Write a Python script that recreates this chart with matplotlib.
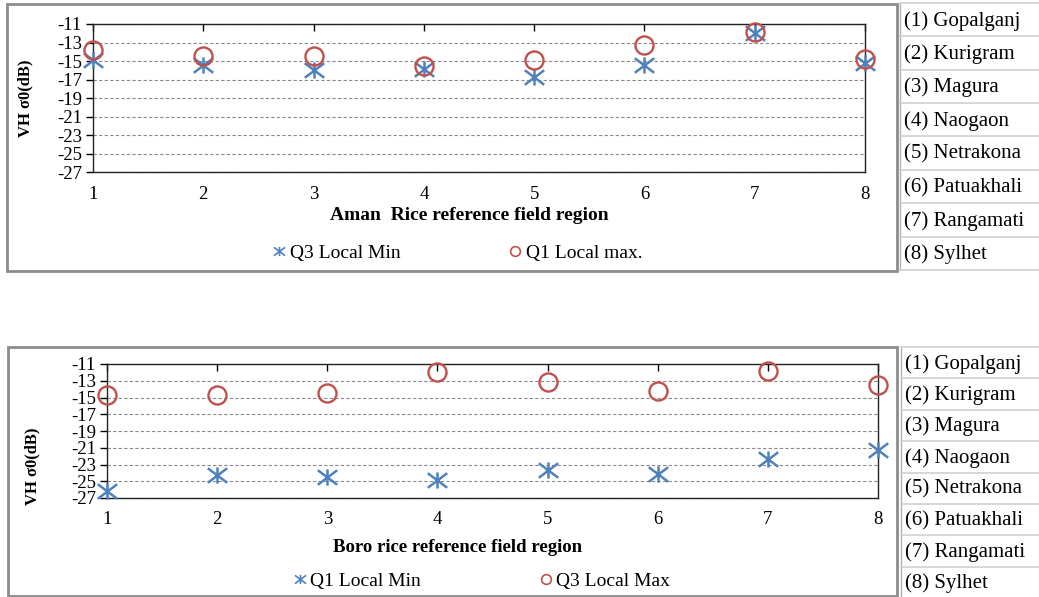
import matplotlib
matplotlib.use("Agg")
import matplotlib.pyplot as plt
from matplotlib.path import Path
from matplotlib.lines import Line2D
from matplotlib.patches import Rectangle

# ---------------- data ----------------
regions = [1, 2, 3, 4, 5, 6, 7, 8]
region_names = ["(1) Gopalganj", "(2) Kurigram", "(3) Magura", "(4) Naogaon",
                "(5) Netrakona", "(6) Patuakhali", "(7) Rangamati", "(8) Sylhet"]
aman_q3_min = [-14.9, -15.4, -16.0, -15.9, -16.7, -15.4, -12.0, -15.2]
aman_q1_max = [-13.8, -14.5, -14.5, -15.5, -14.9, -13.3, -11.9, -14.8]
boro_q1_min = [-26.2, -24.2, -24.5, -24.8, -23.7, -24.1, -22.4, -21.3]
boro_q3_max = [-14.7, -14.7, -14.5, -11.9, -13.1, -14.2, -11.8, -13.5]
y_ticks = [-27, -25, -23, -21, -19, -17, -15, -13, -11]

# ---------------- style ----------------
W, H = 1039, 597
SERIF = ["Liberation Serif", "DejaVu Serif"]
plt.rcParams["font.family"] = SERIF
plt.rcParams["axes.unicode_minus"] = False
BLUE = "#4F81BD"
RED = "#C0504D"
BOX = "#8c8c8c"

star = Path([(0, -1), (0, 1), (-1.2, -0.9), (1.2, 0.9), (-1.2, 0.9), (1.2, -0.9)],
            [Path.MOVETO, Path.LINETO, Path.MOVETO, Path.LINETO, Path.MOVETO, Path.LINETO])

fig = plt.figure(figsize=(W / 100, H / 100), dpi=100)
fig.patch.set_facecolor("white")


def fx(x):
    return x / W


def fy(y):
    return 1 - y / H


def make_axes(l, t, r, b):
    return fig.add_axes([fx(l), fy(b), (r - l) / W, (b - t) / H])


def style_axes(ax, xpad, ypad):
    ax.set_xlim(1, 8)
    ax.set_ylim(-27, -11)
    ax.set_xticks(regions)
    ax.set_yticks(y_ticks)
    ax.set_yticklabels([str(v) for v in y_ticks])
    ax.tick_params(axis="x", top=True, bottom=False, labeltop=False, labelbottom=True,
                   direction="in", length=5, width=1, pad=xpad, labelsize=13.5)
    ax.tick_params(axis="y", direction="out", length=5, width=1, pad=ypad, labelsize=13.5)
    ax.grid(axis="y", linestyle=(0, (3, 2)), color="#8a8a8a", linewidth=0.8)
    ax.set_axisbelow(True)
    for s in ax.spines.values():
        s.set_color("#222222")
        s.set_linewidth(1)


def plot_series(ax, min_vals, max_vals):
    ax.plot(regions, min_vals, linestyle="none", marker=star, markersize=14,
            markeredgewidth=1.8, color=BLUE, clip_on=False, zorder=3)
    ax.plot(regions, max_vals, linestyle="none", marker="o", markersize=13,
            markerfacecolor="none", markeredgewidth=1.7, markeredgecolor=RED,
            clip_on=False, zorder=4)


# ---------------- top chart (Aman) ----------------
fig.add_artist(Rectangle((fx(7), fy(271)), (897 - 7) / W, (271 - 4) / H,
                         transform=fig.transFigure, fill=False, ec=BOX, lw=2))
ax1 = make_axes(93, 24, 865, 172)
style_axes(ax1, 10, 3)
plot_series(ax1, aman_q3_min, aman_q1_max)
fig.text(fx(469), fy(216), "Aman  Rice reference field region", ha="center", va="center",
         fontsize=14, fontweight="bold")
fig.text(fx(25), fy(98), "VH σ0(dB)", ha="center", va="center", rotation=90,
         fontsize=12, fontweight="bold")
h1 = [Line2D([], [], linestyle="none", marker=star, markersize=8, markeredgewidth=1.2, color=BLUE),
      Line2D([], [], linestyle="none", marker="o", markersize=7, markerfacecolor="none",
             markeredgewidth=1.2, markeredgecolor=RED)]
fig.legend(h1, ["Q3 Local Min", "Q1 Local max."], loc="center", ncol=2,
           bbox_to_anchor=(fx(458), fy(253)), frameon=False, fontsize=14,
           handlelength=0.6, handletextpad=0.25, columnspacing=5.6, borderpad=0)

# ---------------- bottom chart (Boro) ----------------
fig.add_artist(Rectangle((fx(8), fy(596)), (897 - 8) / W, (596 - 347) / H,
                         transform=fig.transFigure, fill=False, ec=BOX, lw=2))
ax2 = make_axes(107, 364, 878, 498)
style_axes(ax2, 9, 3)
plot_series(ax2, boro_q1_min, boro_q3_max)
fig.text(fx(458), fy(547), "Boro rice reference field region", ha="center", va="center",
         fontsize=13.5, fontweight="bold")
fig.text(fx(32), fy(466), "VH σ0(dB)", ha="center", va="center", rotation=90,
         fontsize=12, fontweight="bold")
h2 = [Line2D([], [], linestyle="none", marker=star, markersize=8, markeredgewidth=1.2, color=BLUE),
      Line2D([], [], linestyle="none", marker="o", markersize=7, markerfacecolor="none",
             markeredgewidth=1.2, markeredgecolor=RED)]
fig.legend(h2, ["Q1 Local Min", "Q3 Local Max"], loc="center", ncol=2,
           bbox_to_anchor=(fx(482), fy(581)), frameon=False, fontsize=14,
           handlelength=0.6, handletextpad=0.25, columnspacing=6.1, borderpad=0)

# ---------------- side tables ----------------
def side_table(y_top, y_bot, x_left):
    n = len(region_names)
    step = (y_bot - y_top) / n
    fig.add_artist(Line2D([fx(x_left), fx(x_left)], [fy(y_top), fy(y_bot)],
                          transform=fig.transFigure, color="#b0b0b0", lw=1))
    for i in range(n + 1):
        yy = y_top + i * step
        fig.add_artist(Line2D([fx(x_left), fx(W)], [fy(yy), fy(yy)],
                              transform=fig.transFigure, color="#d0d0d0", lw=1.2))
    for i, name in enumerate(region_names):
        fig.text(fx(x_left + 4), fy(y_top + (i + 0.5) * step + 1), name, ha="left",
                 va="center", fontsize=15)


side_table(3, 270, 900)
side_table(347, 598, 901)

fig.savefig("out.png", dpi=100)
